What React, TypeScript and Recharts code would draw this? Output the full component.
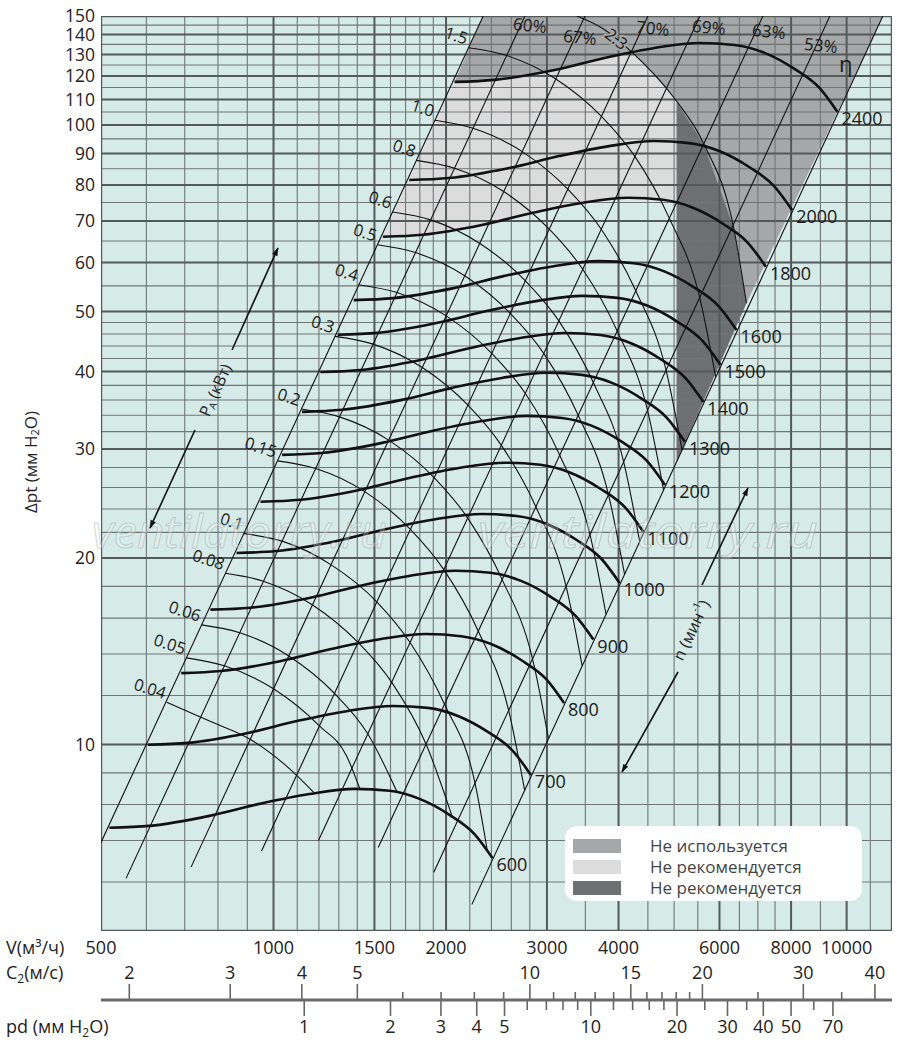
import React from 'react';
import { ComposedChart, Scatter, XAxis, YAxis } from 'recharts';

const FONT = "'Open Sans', 'Noto Sans', sans-serif";

// ---------- axes / grid values ----------
const V_DOMAIN = [500, 12000];
const P_DOMAIN = [5, 150];
const V_LABEL_TICKS = [500, 1000, 1500, 2000, 3000, 4000, 6000, 8000, 10000];
const P_LABEL_TICKS = [10, 20, 30, 40, 50, 60, 70, 80, 90, 100, 110, 120, 130, 140, 150];
const V_GRID_MINOR = [600, 700, 800, 900, 1100, 1200, 1300, 1400, 1600, 1700, 1800, 1900, 2200, 2400, 2600, 2800, 3500, 4500, 5000, 5500, 6500, 7000, 7500, 9000, 11000];
const V_GRID_MAJOR = [1000, 1500, 2000, 3000, 4000, 6000, 8000, 10000];
const P_GRID_MINOR = [6, 7, 8, 9, 12, 14, 16, 18, 22, 24, 26, 28, 32, 34, 36, 38, 42, 44, 46, 48, 55, 65, 75, 85, 95, 105, 115, 125, 135, 145];
const P_GRID_MAJOR = [10, 20, 30, 40, 50, 60, 70, 80, 90, 100, 110, 120, 130, 140];
// outlet velocity C2 (m/s) and dynamic pressure pd (mm H2O) scales
const C2_LABELED = [2, 3, 4, 5, 10, 15, 20, 30, 40];
const C2_MINOR = [6, 7, 8, 9, 11, 12, 13, 14, 16, 17, 18, 19, 25, 35];
const PD_LABELED = [1, 2, 3, 4, 5, 10, 20, 30, 40, 50, 70];
const PD_MINOR = [6, 7, 8, 9, 12, 14, 16, 18, 25, 35, 60];
const V_PER_C2 = 280.1;      // m3/h per 1 m/s of outlet velocity
const PD_PER_C2SQ = 0.0613;  // mm H2O per (m/s)^2

// ---------- speed curves n (V m3/h, dPt mm H2O) ----------
const N600 = [[517, 7.34], [608, 7.39], [773, 7.67], [945, 8.02], [1155, 8.32], [1385, 8.48], [1594, 8.42], [1798, 8.17], [2028, 7.70], [2242, 7.17], [2410, 6.56]];
const N700 = [[604, 9.99], [709, 10.06], [902, 10.44], [1103, 10.92], [1348, 11.33], [1615, 11.54], [1859, 11.46], [2098, 11.12], [2366, 10.48], [2615, 9.77], [2812, 8.93]];
const N800 = [[690, 13.04], [810, 13.14], [1031, 13.64], [1260, 14.26], [1541, 14.80], [1846, 15.08], [2125, 14.96], [2397, 14.53], [2704, 13.69], [2989, 12.76], [3213, 11.67]];
const N900 = [[776, 16.51], [911, 16.63], [1160, 17.26], [1418, 18.05], [1733, 18.73], [2077, 19.08], [2390, 18.94], [2697, 18.39], [3042, 17.33], [3363, 16.14], [3615, 14.77]];
const N1000 = [[862, 20.38], [1013, 20.53], [1289, 21.31], [1575, 22.28], [1926, 23.12], [2308, 23.56], [2656, 23.38], [2997, 22.70], [3380, 21.39], [3736, 19.93], [4017, 18.23]];
const N1100 = [[949, 24.66], [1114, 24.84], [1418, 25.79], [1733, 26.96], [2118, 27.98], [2538, 28.51], [2921, 28.29], [3296, 27.47], [3718, 25.88], [4110, 24.12], [4419, 22.06]];
const N1200 = [[1035, 29.35], [1215, 29.56], [1547, 30.69], [1890, 32.08], [2311, 33.29], [2769, 33.93], [3187, 33.67], [3596, 32.69], [4056, 30.80], [4483, 28.70], [4820, 26.25]];
const N1300 = [[1121, 34.44], [1317, 34.70], [1675, 36.01], [2048, 37.65], [2503, 39.07], [3000, 39.82], [3453, 39.51], [3896, 38.36], [4394, 36.15], [4857, 33.68], [5222, 30.81]];
const N1400 = [[1207, 39.94], [1418, 40.24], [1804, 41.77], [2205, 43.67], [2696, 45.32], [3231, 46.18], [3718, 45.82], [4195, 44.49], [4732, 41.92], [5231, 39.06], [5624, 35.73]];
const N1500 = [[1294, 45.86], [1519, 46.19], [1933, 47.95], [2363, 50.13], [2889, 52.02], [3461, 53.01], [3984, 52.61], [4495, 51.08], [5070, 48.13], [5604, 44.84], [6025, 41.02]];
const N1600 = [[1380, 52.17], [1620, 52.56], [2062, 54.55], [2520, 57.04], [3081, 59.19], [3692, 60.31], [4249, 59.85], [4795, 58.11], [5408, 54.76], [5978, 51.02], [6427, 46.67]];
const N1800 = [[1552, 66.03], [1823, 66.52], [2320, 69.04], [2835, 72.19], [3466, 74.91], [4154, 76.33], [4780, 75.75], [5394, 73.55], [6084, 69.30], [6725, 64.57], [7230, 59.07]];
const N2000 = [[1725, 81.52], [2025, 82.12], [2578, 85.24], [3150, 89.12], [3851, 92.48], [4615, 94.24], [5312, 93.52], [5993, 90.80], [6759, 85.56], [7472, 79.72], [8034, 72.92]];
const N2400 = [[2070, 117.4], [2431, 118.3], [3093, 122.7], [3781, 128.3], [4622, 133.2], [5538, 135.7], [6374, 134.7], [7192, 130.8], [8111, 123.2], [8967, 114.8], [9640, 105.0]];
const SPEED_CURVES = [
  { n: '600', pts: N600 }, { n: '700', pts: N700 }, { n: '800', pts: N800 }, { n: '900', pts: N900 },
  { n: '1000', pts: N1000 }, { n: '1100', pts: N1100 }, { n: '1200', pts: N1200 }, { n: '1300', pts: N1300 },
  { n: '1400', pts: N1400 }, { n: '1500', pts: N1500 }, { n: '1600', pts: N1600 }, { n: '1800', pts: N1800 },
  { n: '2000', pts: N2000 }, { n: '2400', pts: N2400 },
];

// ---------- power arcs P_A (kW) ----------
const A004 = [[651, 11.7], [775, 10.9], [910, 10.2], [1055, 9.22], [1180, 8.34]];
const A005 = [[705, 13.8], [821, 13.4], [1000, 12.3], [1205, 10.7], [1340, 9.6], [1416, 8.46]];
const A006 = [[749, 15.6], [873, 15.15], [1063, 13.9], [1277, 12.1], [1461, 10.4], [1645, 8.36]];
const A008 = [[824, 18.9], [960, 18.35], [1170, 16.8], [1406, 14.6], [1608, 12.6], [1847, 10.0], [2050, 7.65]];
const A010 = [[888, 21.9], [1035, 21.3], [1261, 19.5], [1514, 17.0], [1732, 14.6], [1989, 11.6], [2247, 8.66], [2360, 6.75]];
const A015 = [[1016, 28.7], [1184, 27.9], [1443, 25.6], [1733, 22.25], [1982, 19.16], [2277, 15.24], [2572, 11.35], [2743, 8.43]];
const A020 = [[1118, 34.8], [1303, 33.8], [1588, 31.0], [1908, 26.95], [2182, 23.2], [2506, 18.46], [2831, 13.75], [3019, 10.22]];
const A030 = [[1280, 45.6], [1492, 44.3], [1818, 40.6], [2184, 35.3], [2498, 30.4], [2869, 24.2], [3240, 18.0], [3456, 13.39]];
const A040 = [[1409, 55.25], [1642, 53.65], [2001, 49.2], [2403, 42.8], [2749, 36.9], [3158, 29.3], [3567, 21.8], [3804, 16.22]];
const A050 = [[1518, 64.1], [1769, 62.25], [2156, 57.1], [2589, 49.65], [2961, 42.8], [3401, 34.0], [3842, 25.3], [4098, 18.82]];
const A060 = [[1613, 72.4], [1880, 70.3], [2291, 64.4], [2751, 56.06], [3147, 48.3], [3614, 38.4], [4083, 28.6], [4355, 21.25]];
const A080 = [[1776, 87.7], [2069, 85.16], [2521, 78.1], [3028, 67.9], [3464, 58.5], [3978, 46.5], [4493, 34.65], [4793, 25.75]];
const A100 = [[1913, 101.8], [2229, 98.8], [2716, 90.6], [3262, 78.8], [3731, 67.9], [4286, 54.0], [4841, 40.2], [5163, 29.88]];
const A150 = [[2189, 133.3], [2552, 129.5], [3109, 118.7], [3734, 103.3], [4271, 89.0], [4906, 70.7], [5541, 52.7], [5910, 39.15]];
const A230 = [[3380, 150], [3755, 143.2], [4215, 131.3], [4982, 111.1], [5630, 93.4], [6345, 68.55], [6687, 51.58]];
const POWER_ARCS = [
  { w: '0.04', pts: A004 }, { w: '0.05', pts: A005 }, { w: '0.06', pts: A006 }, { w: '0.08', pts: A008 },
  { w: '0.1', pts: A010 }, { w: '0.15', pts: A015 }, { w: '0.2', pts: A020 }, { w: '0.3', pts: A030 },
  { w: '0.4', pts: A040 }, { w: '0.5', pts: A050 }, { w: '0.6', pts: A060 }, { w: '0.8', pts: A080 },
  { w: '1.0', pts: A100 }, { w: '1.5', pts: A150 },
];

// ---------- efficiency lines (dPt ~ V^2) ----------
const ETA_L = [[500, 6.95], [2322, 150]];
const ETA_60 = [[553, 6.08], [2746, 150]];
const ETA_67 = [[718, 6.34], [3495, 150]];
const ETA_70 = [[953, 6.73], [4500, 150]];
const ETA_69 = [[1198, 7.0], [5546, 150]];
const ETA_63 = [[1523, 6.82], [7144, 150]];
const ETA_53 = [[1904, 6.22], [9350, 150]];
const ETA_R = [[2219, 5.52], [11567, 150]];
const ETA_LINES = [
  { label: '', pts: ETA_L }, { label: '60%', pts: ETA_60 }, { label: '67%', pts: ETA_67 }, { label: '70%', pts: ETA_70 },
  { label: '69%', pts: ETA_69 }, { label: '63%', pts: ETA_63 }, { label: '53%', pts: ETA_53 }, { label: 'η', pts: ETA_R },
];

// ---------- zones ----------
const ZONE_UNUSED_TOP = [[2070, 117.4], [2322, 150], [11567, 150], [9640, 105.0], [8967, 114.8], [8111, 123.2], [7192, 130.8], [6374, 134.7], [5538, 135.7], [4622, 133.2], [3781, 128.3], [3093, 122.7], [2431, 118.3]];
const ZONE_UNUSED_RIGHT = [[3380, 150], [3755, 143.2], [4215, 131.3], [4982, 111.1], [5630, 93.4], [6345, 68.55], [6687, 51.58], [11567, 150]];
const ZONE_LIGHT = [[1552, 66.03], [2070, 117.4], [2431, 118.3], [3093, 122.7], [3781, 128.3], [4215, 131.3], [4982, 111.1], [5050, 109.0], [5050, 74.75], [4780, 75.75], [4154, 76.33], [3466, 74.91], [2835, 72.19], [2320, 69.04], [1823, 66.52]];
const ZONE_DARK = [[5050, 109.0], [5630, 93.4], [6345, 68.55], [6687, 51.58], [5050, 28.59]];

const LEGEND_ITEMS = [
  { text: 'Не используется', color: '#a6a7a9' },
  { text: 'Не рекомендуется', color: '#dcdcdd' },
  { text: 'Не рекомендуется', color: '#6e6f71' },
];

// ---------- styles ----------
const BG = '#d6eae7';
const ZONE_COLORS = { unused: '#a6a7a9', light: '#dcdcdd', dark: '#6e6f71' };
const ETA_LABEL_STYLE: Record<string, { dx: number; dy: number; size: number; rot: number }> = {
  '60%': { dx: 5, dy: 9, size: 17, rot: 6 },
  '67%': { dx: -5, dy: 21, size: 17, rot: 6 },
  '70%': { dx: 5, dy: 12, size: 17, rot: 6 },
  '69%': { dx: 9, dy: 11, size: 17, rot: 6 },
  '63%': { dx: 6, dy: 15, size: 17, rot: 6 },
  '53%': { dx: -9, dy: 29, size: 17, rot: 6 },
  'η': { dx: -37, dy: 47, size: 22, rot: 0 },
};

// bottom scale ticks, expressed on the V axis
type BTick = { v: number; kind: 'V' | 'C' | 'D'; label?: number; major?: boolean };
const BOTTOM_TICKS: BTick[] = [
  ...V_LABEL_TICKS.map((v) => ({ v, kind: 'V' as const, label: v, major: true })),
  ...C2_LABELED.map((c) => ({ v: c * V_PER_C2, kind: 'C' as const, label: c, major: true })),
  ...C2_MINOR.map((c) => ({ v: c * V_PER_C2, kind: 'C' as const, major: false })),
  ...PD_LABELED.map((p) => ({ v: V_PER_C2 * Math.sqrt(p / PD_PER_C2SQ), kind: 'D' as const, label: p, major: true })),
  ...PD_MINOR.map((p) => ({ v: V_PER_C2 * Math.sqrt(p / PD_PER_C2SQ), kind: 'D' as const, major: false })),
];
const BOTTOM_TICK_MAP = new Map(BOTTOM_TICKS.map((t) => [t.v, t]));
const BOTTOM_TICK_VALUES = BOTTOM_TICKS.map((t) => t.v).sort((a, b) => a - b);

const toPts = (a: number[][]) => a.map(([x, y]) => ({ x, y }));
const noShape = () => <g />;

const segLine = (stroke: string, width: number) => (props: any) => {
  const p = props.points || [];
  let d = '';
  for (let i = 0; i + 1 < p.length; i += 2) d += `M${p[i].x},${p[i].y}L${p[i + 1].x},${p[i + 1].y}`;
  return <path d={d} stroke={stroke} strokeWidth={width} fill="none" />;
};

const vSegs = (vals: number[]) => vals.flatMap((v) => [{ x: v, y: P_DOMAIN[0] }, { x: v, y: P_DOMAIN[1] }]);
const hSegs = (vals: number[]) => vals.flatMap((p) => [{ x: V_DOMAIN[0], y: p }, { x: V_DOMAIN[1], y: p }]);

const YTick = (p: any) => (
  <text x={p.x - 6} y={p.y} dy="0.36em" textAnchor="end" fontSize={17.5} fontFamily={FONT} fill="#222">{p.payload.value}</text>
);

// y of the bottom-scale baseline relative to the axis top
const SCALE_LINE_DY = 69;
const BottomTick = (p: any) => {
  const t = BOTTOM_TICK_MAP.get(p.payload.value);
  if (!t) return <g />;
  const top = p.y;
  const line = top + SCALE_LINE_DY;
  if (t.kind === 'V') {
    return <text x={p.x} y={top + 23} textAnchor="middle" fontSize={18} fontFamily={FONT} fill="#222">{t.label}</text>;
  }
  if (t.kind === 'C') {
    return (
      <g>
        <line x1={p.x} x2={p.x} y1={line} y2={line - (t.major ? 16 : 8)} stroke="#666" strokeWidth={1.6} />
        {t.major && <text x={p.x} y={line - 21} textAnchor="middle" fontSize={18} fontFamily={FONT} fill="#222">{t.label}</text>}
      </g>
    );
  }
  return (
    <g>
      <line x1={p.x} x2={p.x} y1={line} y2={line + (t.major ? 16 : 10)} stroke="#666" strokeWidth={1.6} />
      {t.major && <text x={p.x} y={line + 33} textAnchor="middle" fontSize={18} fontFamily={FONT} fill="#222">{t.label}</text>}
    </g>
  );
};

const SpeedLabel = (p: any) => (
  <text x={p.cx + 4} y={p.cy + 13} fontSize={18} fontFamily={FONT} fill="#1a1a1a">{p.payload.label}</text>
);
const PowerLabel = (p: any) => {
  const x = p.cx - 3, y = p.cy - 3;
  return (
    <text x={x} y={y} textAnchor="end" fontSize={16.5} fontFamily={FONT} fill="#1a1a1a" transform={`rotate(18 ${x} ${y})`}>{p.payload.label}</text>
  );
};
const Power23Label = (p: any) => {
  const x = p.cx + 14, y = p.cy + 10;
  return (
    <text x={x} y={y} textAnchor="middle" dominantBaseline="central" fontSize={16.5} fontFamily={FONT} fill="#1a1a1a"
      stroke={ZONE_COLORS.unused} strokeWidth={4} paintOrder="stroke" transform={`rotate(38 ${x} ${y})`}>2.3</text>
  );
};
const EtaLabel = (p: any) => {
  const s = ETA_LABEL_STYLE[p.payload.label];
  const x = p.cx + s.dx, y = p.cy + s.dy;
  return (
    <text x={x} y={y} textAnchor="middle" dominantBaseline="central" fontSize={s.size} fontFamily={FONT} fill="#1a1a1a" transform={`rotate(${s.rot} ${x} ${y})`}>{p.payload.label}</text>
  );
};

const common = { xAxisId: 'v', yAxisId: 'p', isAnimationActive: false, shape: noShape, legendType: 'none' as const };

export default function App() {
  const polys = [
    { key: 'bg', data: [[500, 5], [12000, 5], [12000, 150], [500, 150]], fill: BG },
    { key: 'ut', data: ZONE_UNUSED_TOP, fill: ZONE_COLORS.unused },
    { key: 'ur', data: ZONE_UNUSED_RIGHT, fill: ZONE_COLORS.unused },
    { key: 'lt', data: ZONE_LIGHT, fill: ZONE_COLORS.light },
    { key: 'dk', data: ZONE_DARK, fill: ZONE_COLORS.dark },
  ];
  const speedLabels = SPEED_CURVES.map((c) => ({ x: c.pts[c.pts.length - 1][0], y: c.pts[c.pts.length - 1][1], label: c.n }));
  const powerLabels = POWER_ARCS.map((a) => ({ x: a.pts[0][0], y: a.pts[0][1], label: a.w }));
  const etaLabels = ETA_LINES.filter((e) => e.label).map((e) => ({ x: e.pts[1][0], y: e.pts[1][1], label: e.label }));

  return (
    <div style={{ position: 'relative', width: 900, height: 1049, fontFamily: FONT }}>
      <style>{'body{margin:0}'}</style>
      <ComposedChart width={900} height={1049} margin={{ top: 16, right: 8, bottom: 0, left: 0 }}>
        <XAxis xAxisId="v" dataKey="x" type="number" scale="log" domain={V_DOMAIN} allowDataOverflow ticks={BOTTOM_TICK_VALUES}
          interval={0} height={118} tickSize={0} tickMargin={0} axisLine={false} tickLine={false} tick={BottomTick} />
        <YAxis yAxisId="p" dataKey="y" type="number" scale="log" domain={P_DOMAIN} allowDataOverflow ticks={P_LABEL_TICKS}
          interval={0} width={101} tickSize={0} tickMargin={0} axisLine={false} tickLine={false} tick={YTick} />

        {polys.map((z) => (
          <Scatter key={z.key} {...common} data={toPts(z.data)} line={{ stroke: 'none', fill: z.fill }} lineJointType="linear" />
        ))}

        <Scatter key="gvmin" {...common} data={vSegs(V_GRID_MINOR)} line={segLine('#6f7776', 1.1)} />
        <Scatter key="ghmin" {...common} data={hSegs(P_GRID_MINOR)} line={segLine('#6f7776', 1.1)} />
        <Scatter key="gvmaj" {...common} data={vSegs(V_GRID_MAJOR)} line={segLine('#535a59', 2)} />
        <Scatter key="ghmaj" {...common} data={hSegs(P_GRID_MAJOR)} line={segLine('#535a59', 2)} />
        <Scatter key="border" {...common} data={[...vSegs(V_DOMAIN), ...hSegs(P_DOMAIN)]} line={segLine('#535a59', 2.4)} />

        {ETA_LINES.map((e, i) => (
          <Scatter key={'eta' + i} {...common} data={toPts(e.pts)} line={{ stroke: '#111', strokeWidth: 1.1, fill: 'none' }} lineJointType="linear" />
        ))}
        {POWER_ARCS.map((a) => (
          <Scatter key={'arc' + a.w} {...common} data={toPts(a.pts)} line={{ stroke: '#111', strokeWidth: 1.1, fill: 'none' }} lineJointType="monotoneX" />
        ))}
        <Scatter key="arc23" {...common} data={toPts(A230)} line={{ stroke: '#111', strokeWidth: 1.1, fill: 'none' }} lineJointType="monotoneX" />
        {SPEED_CURVES.map((c) => (
          <Scatter key={'n' + c.n} {...common} data={toPts(c.pts)} line={{ stroke: '#111', strokeWidth: 2.6, fill: 'none' }} lineJointType="monotoneX" />
        ))}

        <Scatter key="lblN" {...common} data={speedLabels} shape={SpeedLabel} />
        <Scatter key="lblP" {...common} data={powerLabels} shape={PowerLabel} />
        <Scatter key="lbl23" {...common} data={[{ x: A230[1][0], y: A230[1][1] }]} shape={Power23Label} />
        <Scatter key="lblE" {...common} data={etaLabels} shape={EtaLabel} />
      </ComposedChart>

      <svg width={900} height={1049} style={{ position: 'absolute', left: 0, top: 0, pointerEvents: 'none' }} fontFamily={FONT}>
        <defs>
          <marker id="ah" viewBox="0 0 12 10" refX="11" refY="5" markerWidth="9" markerHeight="7" orient="auto" markerUnits="userSpaceOnUse">
            <path d="M0,1 L12,5 L0,9 z" fill="#111" />
          </marker>
        </defs>
        {/* watermark */}
        <text x={92} y={548} fontSize={46} fontStyle="italic" fill="rgba(255,255,255,0.25)" stroke="rgba(150,160,160,0.45)" strokeWidth={1} textLength={295} lengthAdjust="spacingAndGlyphs">ventilatorry.ru</text>
        <text x={478} y={548} fontSize={46} fontStyle="italic" fill="rgba(255,255,255,0.25)" stroke="rgba(150,160,160,0.45)" strokeWidth={1} textLength={340} lengthAdjust="spacingAndGlyphs">ventilatorry.ru</text>

        {/* C2 / pd scale line */}
        <line x1={101} y1={1000} x2={892} y2={1000} stroke="#6a6a6a" strokeWidth={3} />

        {/* axis titles */}
        <text x={30} y={462} fontSize={17} fill="#222" textAnchor="middle" dominantBaseline="central" transform="rotate(-90 30 462)">
          Δpt (мм H<tspan fontSize={11} dy={4}>2</tspan><tspan dy={-4}>O)</tspan>
        </text>
        <text x={6} y={954} fontSize={18} fill="#222">V(м³/ч)</text>
        <text x={6} y={979} fontSize={18} fill="#222">C<tspan fontSize={12} dy={4}>2</tspan><tspan dy={-4}>(м/с)</tspan></text>
        <text x={6} y={1033} fontSize={18} fill="#222">pd (мм H<tspan fontSize={12} dy={4}>2</tspan><tspan dy={-4}>O)</tspan></text>

        {/* P_A annotation */}
        <line x1={232} y1={350} x2={278} y2={248} stroke="#111" strokeWidth={1.6} markerEnd="url(#ah)" />
        <line x1={195} y1={430} x2={150} y2={528} stroke="#111" strokeWidth={1.6} markerEnd="url(#ah)" />
        <text x={215} y={390} fontSize={16} fill="#222" textAnchor="middle" dominantBaseline="central" transform="rotate(-65.7 215 390)">
          P<tspan fontSize={10} dy={4}>A</tspan><tspan dy={-4}> (кВт)</tspan>
        </text>

        {/* n annotation */}
        <line x1={702} y1={585} x2={748} y2={488} stroke="#111" strokeWidth={1.6} markerEnd="url(#ah)" />
        <line x1={678} y1={672} x2={622} y2={772} stroke="#111" strokeWidth={1.6} markerEnd="url(#ah)" />
        <text x={691} y={630} fontSize={16} fill="#222" textAnchor="middle" dominantBaseline="central" transform="rotate(-64.6 691 630)">
          n (мин<tspan fontSize={10} dy={-6}>-1</tspan><tspan dy={6}>)</tspan>
        </text>

        {/* legend */}
        <rect x={565} y={826} width={297} height={75} rx={12} fill="#ffffff" />
        {LEGEND_ITEMS.map((it, i) => (
          <g key={i}>
            <rect x={573} y={839 + i * 21} width={48} height={14} fill={it.color} />
            <text x={650} y={852 + i * 21} fontSize={17} fill="#444">{it.text}</text>
          </g>
        ))}
      </svg>
    </div>
  );
}
